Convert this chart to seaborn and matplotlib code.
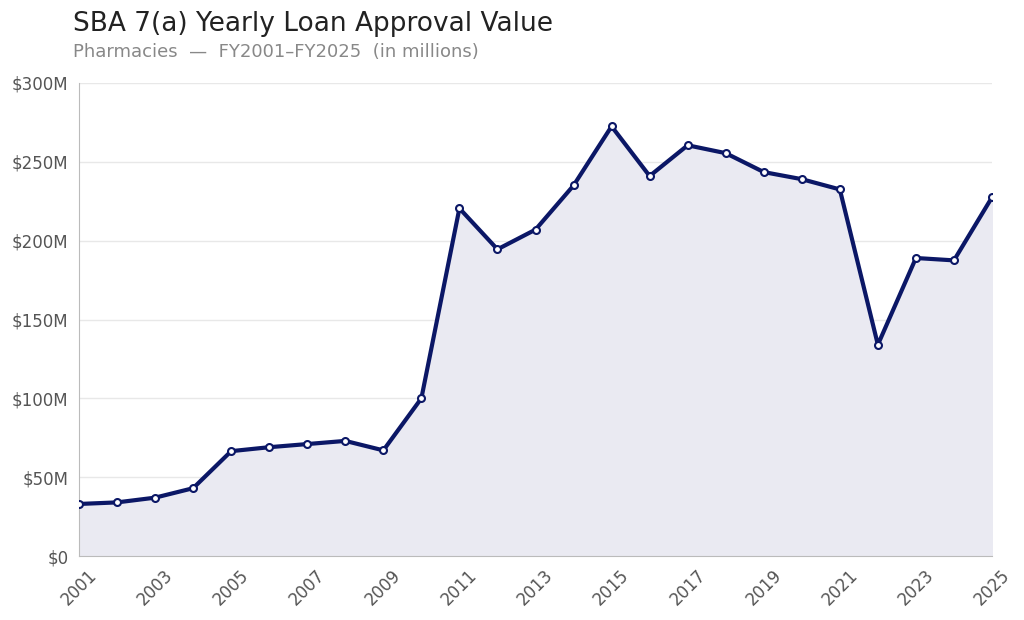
import matplotlib
matplotlib.use("Agg")
import matplotlib.pyplot as plt
import seaborn as sns
import pandas as pd

years = list(range(2001, 2026))
approvals = [33, 34, 37, 43, 66.5, 69, 71, 73, 67, 100, 220.5, 194.5, 207, 235, 272.5,
             241, 260.5, 255.5, 243.5, 239, 232.5, 134, 189, 187.5, 227.5]
df = pd.DataFrame({'year': years, 'value': approvals})

sns.set_style('white')
plt.rcParams['font.family'] = ['DejaVu Sans']

navy = '#0b1766'
fig = plt.figure(figsize=(10.24, 6.2), dpi=100)
ax = fig.add_axes([79 / 1024, 1 - 556 / 620, 913 / 1024, 473 / 620])

ax.fill_between(df.year, df.value, color='#eaeaf2', zorder=1)
sns.lineplot(data=df, x='year', y='value', ax=ax, color=navy, linewidth=3, marker='o',
             markersize=5, markerfacecolor='white', markeredgecolor=navy, markeredgewidth=1.5, zorder=3)

ax.set_xlim(2001, 2025)
ax.set_ylim(0, 300)
ax.set_xticks(range(2001, 2026, 2))
ax.set_yticks(range(0, 301, 50))
ax.set_yticklabels([f'${v}M' if v else '$0' for v in range(0, 301, 50)])
ax.tick_params(axis='x', rotation=45, labelsize=12, colors='#555555', length=4)
ax.tick_params(axis='y', labelsize=12, colors='#555555', length=4)
for lbl in ax.get_xticklabels():
    lbl.set_ha('center')
ax.grid(axis='y', color='#e8e8e8', linewidth=1, zorder=0)
ax.set_xlabel('')
ax.set_ylabel('')
for s in ['top', 'right']:
    ax.spines[s].set_visible(False)
for s in ['left', 'bottom']:
    ax.spines[s].set_color('#bbbbbb')

fig.text(73 / 1024, 1 - 24 / 620, 'SBA 7(a) Yearly Loan Approval Value', fontsize=19, color='#222222', va='center')
fig.text(73 / 1024, 1 - 52 / 620, 'Pharmacies  —  FY2001–FY2025  (in millions)', fontsize=13, color='#888888', va='center')

fig.savefig('out.png', dpi=100)
